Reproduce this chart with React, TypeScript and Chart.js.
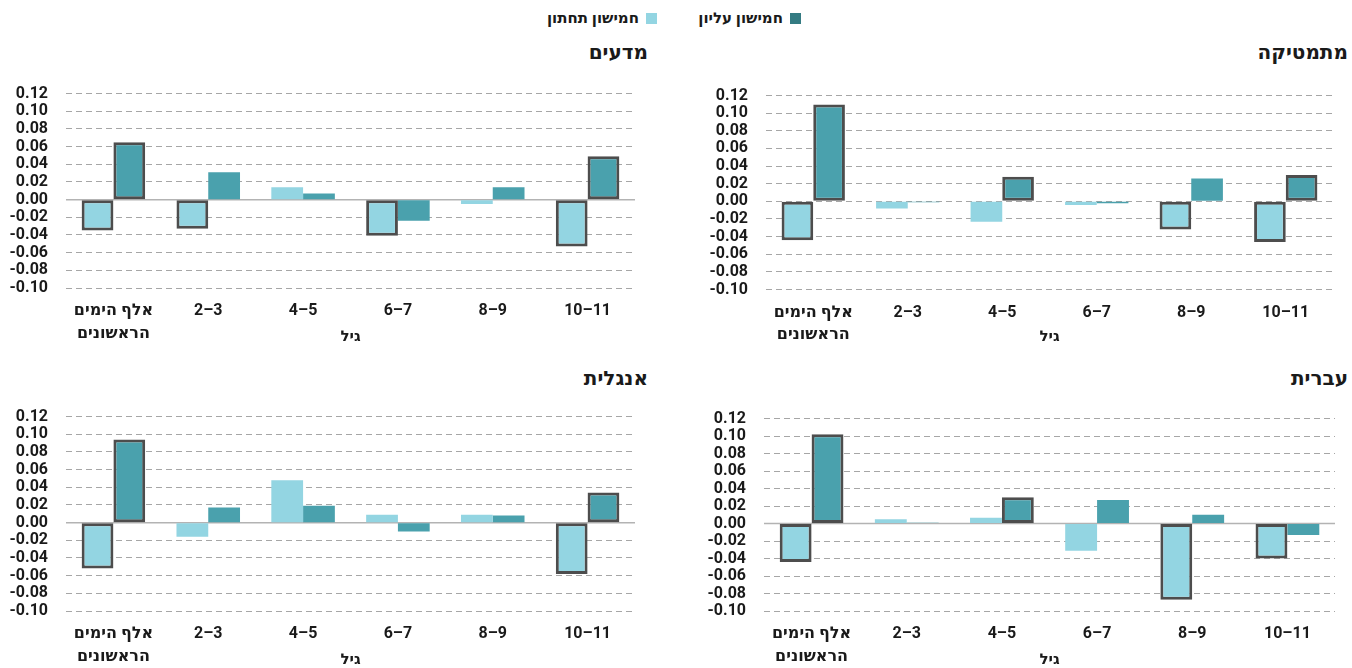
import React, { useEffect, useRef } from 'react';
import { Chart, registerables } from 'chart.js';

Chart.register(...registerables);

// ---------- data ----------
const categories: (string | string[])[] = [['אלף הימים', 'הראשונים'], '2–3', '4–5', '6–7', '8–9', '10–11'];
const yTickValues = [-0.1, -0.08, -0.06, -0.04, -0.02, 0, 0.02, 0.04, 0.06, 0.08, 0.1, 0.12];
const seriesNames = ['חמישון תחתון', 'חמישון עליון'];
const xTitle = 'גיל';

const mathTitle = 'מתמטיקה';
const mathBottom = [-0.044, -0.008, -0.023, -0.004, -0.032, -0.046];
const mathTop = [0.11, -0.001, 0.028, -0.002, 0.026, 0.03];
const mathBottomSig = [true, false, false, false, true, true];
const mathTopSig = [true, false, true, false, false, true];

const scienceTitle = 'מדעים';
const scienceBottom = [-0.035, -0.033, 0.014, -0.041, -0.005, -0.053];
const scienceTop = [0.065, 0.031, 0.007, -0.024, 0.014, 0.049];
const scienceBottomSig = [true, true, false, true, false, true];
const scienceTopSig = [true, false, false, false, false, true];

const hebrewTitle = 'עברית';
const hebrewBottom = [-0.044, 0.005, 0.0065, -0.031, -0.087, -0.04];
const hebrewTop = [0.102, 0.001, 0.03, 0.027, 0.01, -0.013];
const hebrewBottomSig = [true, false, false, false, true, true];
const hebrewTopSig = [true, false, true, false, false, false];

const englishTitle = 'אנגלית';
const englishBottom = [-0.052, -0.016, 0.048, 0.009, 0.009, -0.058];
const englishTop = [0.094, 0.017, 0.019, -0.01, 0.008, 0.034];
const englishBottomSig = [true, false, false, false, false, true];
const englishTopSig = [true, false, false, false, false, true];

// ---------- styles ----------
const LIGHT = '#93d5e2';
const DARK = '#4aa1ad';
const LEGEND_DARK = '#347b82';
const SIG_BORDER = '#4d4d4d';
const TEXT = '#1a1a1a';
const FONT = "Roboto, 'DejaVu Sans', 'Noto Sans', sans-serif";

Chart.defaults.font.family = FONT;

const Y_TICK_FONT = 16;
const Y_TICK_PAD = 18;
// Chart.js reserves half a label height plus the tick padding above the plot area
const Y_TOP_RESERVE = (Y_TICK_FONT * 1.2) / 2 + Y_TICK_PAD;
const TITLE_FONT = 15;
const TITLE_HALF = (TITLE_FONT * 1.2) / 2;

type Geo = {
  left: number; width: number; areaTop: number; areaBottom: number; areaRight: number; titleY: number;
  yAxisWidth: number;
};

type PanelProps = {
  bottom: number[]; top: number[]; bottomSig: boolean[]; topSig: boolean[];
  geo: Geo; zeroSolid: boolean;
};

function Panel({ bottom, top, bottomSig, topSig, geo, zeroSolid }: PanelProps) {
  const ref = useRef<HTMLCanvasElement>(null);
  const canvasTop = Math.round(geo.areaTop - Y_TOP_RESERVE);
  const canvasBottom = Math.round(geo.titleY + TITLE_HALF);
  const height = canvasBottom - canvasTop;
  const xAxisHeight = canvasBottom - geo.areaBottom;
  const padTop = geo.areaTop - Y_TOP_RESERVE - canvasTop;
  const padRight = geo.left + geo.width - geo.areaRight;

  useEffect(() => {
    if (!ref.current) return;
    const zeroLine = {
      id: 'zeroLine',
      beforeDatasetsDraw(chart: any) {
        if (!zeroSolid) return;
        const ctx = chart.ctx;
        const y = chart.scales.y.getPixelForValue(0);
        const { left, right } = chart.chartArea;
        ctx.save();
        ctx.strokeStyle = '#b3b3b3';
        ctx.lineWidth = 1.5;
        ctx.beginPath();
        ctx.moveTo(left, y);
        ctx.lineTo(right, y);
        ctx.stroke();
        ctx.restore();
      },
    };
    const chart = new Chart(ref.current, {
      type: 'bar',
      data: {
        labels: categories as any,
        datasets: [
          {
            label: seriesNames[0],
            data: bottom,
            backgroundColor: LIGHT,
            borderColor: SIG_BORDER,
            borderWidth: bottomSig.map((s) => (s ? 3 : 0)) as any,
            borderSkipped: false,
          },
          {
            label: seriesNames[1],
            data: top,
            backgroundColor: DARK,
            borderColor: SIG_BORDER,
            borderWidth: topSig.map((s) => (s ? 3 : 0)) as any,
            borderSkipped: false,
          },
        ],
      },
      options: {
        responsive: false,
        maintainAspectRatio: false,
        animation: false,
        layout: { padding: { top: padTop, right: padRight, left: 0, bottom: 0 } },
        plugins: { legend: { display: false }, tooltip: { enabled: false } },
        datasets: { bar: { categoryPercentage: 0.67, barPercentage: 1 } },
        scales: {
          x: {
            grid: { display: false, drawTicks: false },
            border: { display: false },
            ticks: {
              padding: 12,
              autoSkip: false,
              maxRotation: 0,
              color: TEXT,
              font: { size: 16, weight: 'bold', lineHeight: 1.4 },
            },
            title: {
              display: true,
              text: xTitle,
              color: TEXT,
              font: { size: TITLE_FONT, weight: 'bold', lineHeight: 1.2 },
              padding: { top: 0, bottom: 0 },
            },
            afterFit: (s: any) => {
              s.height = xAxisHeight;
            },
          },
          y: {
            min: -0.1,
            max: 0.12,
            afterBuildTicks: (s: any) => {
              s.ticks = yTickValues.map((v) => ({ value: v }));
            },
            afterFit: (s: any) => {
              s.width = geo.yAxisWidth;
            },
            grid: { color: '#a6a6a6', lineWidth: 1, drawTicks: false },
            border: { display: false, dash: [6, 4] },
            ticks: {
              autoSkip: false,
              padding: Y_TICK_PAD,
              color: TEXT,
              font: { size: Y_TICK_FONT, weight: 'bold' },
              callback: (v: any) => Number(v).toFixed(2),
            },
          },
        },
      } as any,
      plugins: [zeroLine],
    });
    return () => chart.destroy();
  }, []);
  return (
    <canvas
      ref={ref}
      width={geo.width}
      height={height}
      style={{ position: 'absolute', left: geo.left, top: canvasTop, width: geo.width, height }}
    />
  );
}

const titleStyle = (right: number, top: number): React.CSSProperties => ({
  position: 'absolute',
  right,
  top,
  fontSize: 20,
  fontWeight: 700,
  lineHeight: '28px',
  direction: 'rtl',
  color: TEXT,
  whiteSpace: 'nowrap',
});

const legendText = (right: number): React.CSSProperties => ({
  position: 'absolute',
  right,
  top: 8,
  fontSize: 15,
  fontWeight: 700,
  lineHeight: '20px',
  direction: 'rtl',
  color: TEXT,
  whiteSpace: 'nowrap',
});

export default function App() {
  return (
    <div
      style={{
        position: 'fixed',
        left: 0,
        top: 0,
        width: 1352,
        height: 668,
        overflow: 'hidden',
        background: '#ffffff',
        fontFamily: FONT,
      }}
    >
      {/* legend */}
      <div style={{ position: 'absolute', left: 790, top: 13, width: 11, height: 11, background: LEGEND_DARK }} />
      <div style={legendText(1352 - 783)}>{seriesNames[1]}</div>
      <div style={{ position: 'absolute', left: 646, top: 13, width: 11, height: 11, background: LIGHT }} />
      <div style={legendText(1352 - 639)}>{seriesNames[0]}</div>

      {/* panel titles */}
      <div style={titleStyle(4, 38)}>{mathTitle}</div>
      <div style={titleStyle(704, 38)}>{scienceTitle}</div>
      <div style={titleStyle(4, 364)}>{hebrewTitle}</div>
      <div style={titleStyle(704, 364)}>{englishTitle}</div>

      <Panel
        bottom={scienceBottom}
        top={scienceTop}
        bottomSig={scienceBottomSig}
        topSig={scienceTopSig}
        zeroSolid={true}
        geo={{ left: 0, width: 645, areaTop: 94, areaBottom: 288, areaRight: 635, titleY: 337, yAxisWidth: 66 }}
      />
      <Panel
        bottom={mathBottom}
        top={mathTop}
        bottomSig={mathBottomSig}
        topSig={mathTopSig}
        zeroSolid={false}
        geo={{ left: 700, width: 650, areaTop: 95.5, areaBottom: 289.5, areaRight: 1333, titleY: 337, yAxisWidth: 66 }}
      />
      <Panel
        bottom={englishBottom}
        top={englishTop}
        bottomSig={englishBottomSig}
        topSig={englishTopSig}
        zeroSolid={true}
        geo={{ left: 0, width: 645, areaTop: 416.5, areaBottom: 611, areaRight: 635, titleY: 660, yAxisWidth: 66 }}
      />
      <Panel
        bottom={hebrewBottom}
        top={hebrewTop}
        bottomSig={hebrewBottomSig}
        topSig={hebrewTopSig}
        zeroSolid={true}
        geo={{ left: 698, width: 652, areaTop: 418.5, areaBottom: 611, areaRight: 1335, titleY: 660, yAxisWidth: 66 }}
      />
    </div>
  );
}
